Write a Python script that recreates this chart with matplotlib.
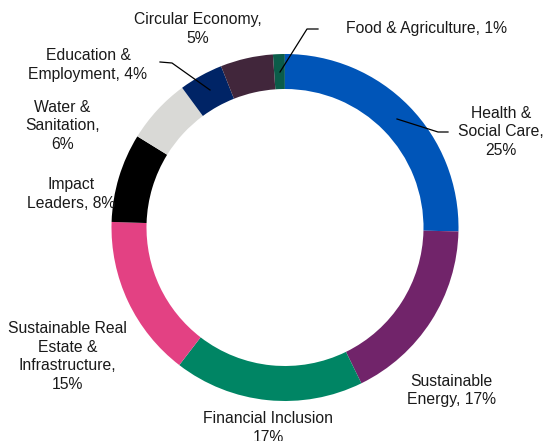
import matplotlib
matplotlib.use('Agg')
import matplotlib.pyplot as plt

plt.rcParams['font.family'] = ['Liberation Sans', 'DejaVu Sans']

# slices, clockwise from just left of 12 o'clock
sectors = ['Food & Agriculture', 'Health & Social Care', 'Sustainable Energy',
           'Financial Inclusion', 'Sustainable Real Estate & Infrastructure',
           'Impact Leaders', 'Water & Sanitation', 'Education & Employment',
           'Circular Economy']
shares = [1.1, 25.4, 17.4, 17.7, 15.1, 8.3, 6.1, 4.1, 4.9]
labels = ['Food & Agriculture, 1%', 'Health &\nSocial Care,\n25%',
          'Sustainable\nEnergy, 17%', 'Financial Inclusion\n17%',
          'Sustainable Real\nEstate &\nInfrastructure,\n15%',
          'Impact\nLeaders, 8%', 'Water &\nSanitation,\n6%',
          'Education &\nEmployment, 4%', 'Circular Economy,\n5%']
colors = ['#0b5c49', '#0055b8', '#71246a', '#008564', '#e34183',
          '#000000', '#d9d9d6', '#002466', '#41263b']

W, H = 545, 441
fig = plt.figure(figsize=(W / 100, H / 100), dpi=100)
ax = fig.add_axes([0, 0, 1, 1])

cx, cy, R = 285, H - 227.5, 173.5
ax.pie(shares, colors=colors, startangle=94, counterclock=False,
       radius=R, center=(cx, cy),
       wedgeprops=dict(width=35, linewidth=0))

# label centres in image pixels (x, y from top)
pos = [(426, 29), (501, 132), (451.5, 390.5), (268, 428), (67.5, 356.5),
       (71, 194), (62.5, 126), (88, 65), (198, 29)]
for lab, (x, y) in zip(labels, pos):
    ax.text(x, H - y, lab, ha='center', va='center', multialignment='center',
            fontsize=11.3, color='#1a1a1a', linespacing=1.3)

# leader lines
leaders = [[(318, 29), (307, 29), (280, 72)],
           [(160, 62), (172, 63), (210, 90)],
           [(448, 132), (438, 132), (397, 119)]]
for pts in leaders:
    ax.plot([p[0] for p in pts], [H - p[1] for p in pts], color='black', lw=0.9)

ax.set_xlim(0, W)
ax.set_ylim(0, H)
ax.set_aspect('equal')
ax.axis('off')

fig.savefig('out.png', dpi=100, facecolor='white')
